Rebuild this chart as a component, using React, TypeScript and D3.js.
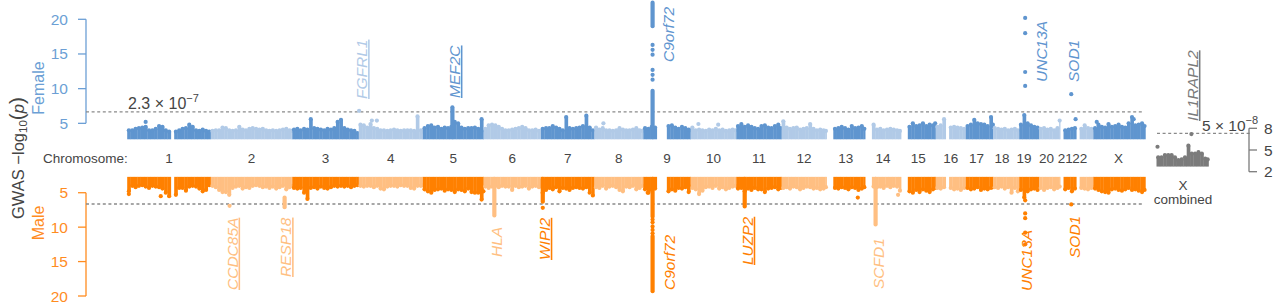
import React from "react";
import * as d3 from "d3";

// ---------- DATA ----------
const chromosomes = ["1","2","3","4","5","6","7","8","9","10","11","12","13","14","15","16","17","18","19","20","21","22","X"];
const chromLengthsMb = [249,243,198,191,181,171,159,146,141,136,135,134,115,107,103,90,81,78,59,63,48,51,155];
const binSizeMb = 10;

// top of the dense point band per 10-Mb bin (-log10 p); 0 = no SNPs
const femaleProfile: number[][] = [
  [4.0,4.0,4.2,4.3,4.4,4.5,4.0,4.0,4.2,4.6,4.5,4.0,3.8,0,3.8,4.0,4.2,4.3,4.8,4.5,4.0,3.9,4.1,3.9,3.8],
  [3.9,4.0,4.0,4.4,4.3,4.0,3.9,4.0,4.5,4.1,4.0,4.2,4.3,4.2,4.1,4.2,4.0,3.9,4.0,3.9,4.0,4.1,4.2,4.0,3.9],
  [4.1,4.2,4.0,4.2,4.1,5.6,4.3,4.2,4.1,4.0,4.2,4.1,4.3,5.2,5.5,4.3,4.1,4.0,3.9,3.6],
  [4.8,4.7,4.4,4.9,4.3,4.2,4.0,4.0,3.9,4.0,4.1,4.0,3.9,4.0,4.0,4.0,3.9,6.0,4.0,3.8],
  [4.3,4.6,4.7,4.4,4.5,4.2,4.4,4.3,4.5,5.2,5.0,4.4,4.2,4.3,4.3,4.4,4.2,5.6,4.0],
  [4.2,4.7,4.8,4.7,4.5,4.2,4.0,4.0,4.1,4.2,4.3,4.5,4.3,4.0,4.0,4.1,3.9,3.8],
  [4.2,4.3,4.3,4.6,4.4,4.2,4.0,5.9,4.3,4.2,4.3,4.4,4.6,6.1,4.4,4.0],
  [4.4,4.1,4.3,4.0,4.0,3.9,4.0,4.3,4.1,4.0,4.0,4.1,4.3,4.0,3.9],
  [4.3,4.2,4.5,4.4,0,0,0,4.6,4.7,4.4,4.2,4.5,4.3,4.1,4.0],
  [4.4,4.0,4.1,4.0,3.9,4.1,4.0,4.2,4.0,4.1,3.9,4.0,4.1,4.0],
  [4.6,4.9,4.5,4.7,4.5,4.3,4.2,4.6,4.7,4.4,4.3,4.6,4.8,4.3],
  [5.3,4.4,4.2,4.3,4.4,4.1,4.2,4.3,4.9,4.2,4.0,4.1,4.0,3.9],
  [0,0,4.2,4.3,4.5,4.3,4.1,4.6,4.3,4.4,4.6,4.2],
  [0,0,4.8,4.1,4.2,4.0,4.1,4.2,4.1,4.0,3.9],
  [0,0,4.5,5.0,4.6,4.7,5.0,4.6,4.8,4.7,5.0],
  [4.5,4.7,5.6,0,4.4,4.5,4.4,4.3,4.2],
  [4.6,4.8,5.5,5.0,4.9,4.8,4.6,5.9,4.8],
  [4.3,4.2,4.1,4.2,4.0,4.1,4.2,4.0],
  [4.8,6.2,5.0,4.7,4.5,4.4],
  [4.2,4.3,4.1,4.2,4.0,4.3,5.4],
  [0,4.0,4.1,4.2,4.3],
  [0,4.2,4.7,4.3,4.2,4.0],
  [4.3,4.8,4.5,4.4,4.9,4.5,4.6,4.8,4.5,4.4,5.0,5.9,4.7,4.8,5.0,4.6],
];

const maleProfile: number[][] = [
  [4.8,4.0,4.2,4.0,3.9,4.1,4.3,4.0,4.1,4.2,4.4,5.0,5.5,0,5.3,4.3,4.3,4.7,4.1,4.0,4.1,4.4,4.8,4.6,3.9],
  [4.0,4.2,4.6,4.9,4.9,5.3,4.3,4.1,4.0,4.4,4.2,4.3,4.0,3.9,4.0,4.2,4.1,4.3,4.1,4.4,4.2,4.0,4.5,4.2,4.0],
  [4.3,4.4,4.3,5.0,5.9,4.3,4.2,4.4,4.1,4.3,4.4,4.2,4.0,4.1,4.0,4.1,4.0,4.2,4.0,3.9],
  [4.0,4.1,4.0,4.0,4.2,4.0,4.4,4.5,4.1,4.0,4.0,4.1,3.9,4.0,4.0,4.3,4.4,4.0,4.0,3.9],
  [4.5,4.8,5.0,4.6,4.5,4.4,4.7,4.5,4.6,4.9,4.5,4.6,4.8,4.4,4.9,5.0,5.0,6.0,4.8],
  [4.1,4.3,4.1,4.0,4.2,4.0,4.1,4.1,4.6,4.0,4.2,4.1,4.0,4.4,4.1,4.0,4.2,4.0],
  [5.0,4.6,4.3,4.5,4.2,4.8,4.3,4.4,4.6,4.3,4.2,4.3,4.4,4.2,5.0,5.4],
  [4.2,4.3,4.0,4.4,4.1,4.0,4.2,4.6,4.8,4.1,4.2,4.0,4.5,4.3,4.0],
  [4.5,5.0,4.6,4.4,0,0,0,4.8,4.5,4.7,4.3,4.4,4.2,4.9,4.1],
  [4.3,4.5,5.2,4.7,4.2,4.1,4.3,4.0,4.4,4.2,4.5,4.3,4.1,4.0],
  [4.4,4.3,4.8,4.4,4.6,4.3,4.5,4.5,4.9,4.4,4.3,4.2,4.5,4.3],
  [4.3,4.2,4.4,4.1,4.2,4.5,4.3,4.1,4.2,4.4,4.3,4.5,4.4,4.2],
  [0,0,4.3,4.4,4.2,4.3,4.5,4.2,4.3,4.6,4.4,4.2],
  [0,0,4.1,4.2,4.1,4.3,4.0,4.2,4.0,4.1,4.7],
  [0,0,4.8,5.0,4.6,4.9,4.5,4.7,4.9,4.5,4.3],
  [4.3,4.4,4.2,0,4.3,4.5,4.4,4.6,4.3],
  [4.3,4.5,4.4,4.2,4.6,4.4,4.5,4.3,4.2],
  [4.2,4.3,4.1,4.4,4.2,5.0,4.3,4.8],
  [4.6,5.7,4.8,4.5,4.4,4.6],
  [4.3,4.6,4.3,4.2,4.5,4.3,4.1],
  [0,4.5,4.3,4.8,4.4],
  [0,4.3,4.4,4.5,4.3,4.2],
  [4.4,4.6,4.8,4.9,5.0,4.5,4.4,4.6,4.7,4.5,4.3,4.6,4.5,4.7,4.9,4.6],
];

// isolated SNPs: [chromosome, position Mb, -log10 p]
const femalePoints: [string, number, number][] = [
  ["1",55,5.2],["4",1,6.8],["4",39,5.4],["4",54,5.4],["8",27,5.0],["10",23,4.9],["10",82,4.8],
  ["9",27.5,16.3],["9",27.5,15.6],["9",27.5,14.9],["9",27.5,12.7],["9",27.5,12.0],["9",27.5,11.3],
  ["19",17.7,20.2],["19",17.7,18.0],["19",17.7,12.4],["19",17.7,10.4],
  ["21",33,9.2],["21",46,5.6],["X",10,5.2],["X",120,5.6],
];
// dense stacks of SNPs: [chromosome, position Mb, lowest, highest]
const femaleRuns: [string, number, number, number][] = [
  ["9",27.5,3,9.7],["9",27.5,19.0,22.4],["5",88,3,7.3],
];
const malePoints: [string, number, number][] = [
  ["1",5,5.2],["1",100,5.5],["2",56,6.9],["7",5.3,7.2],["9",13,5.0],
  ["9",27.5,8.9],["9",27.5,9.3],["9",27.5,9.9],["9",27.5,10.4],["9",27.5,10.9],
  ["13",93,5.7],["14",98,5.3],
  ["19",17.7,6.1],["19",17.7,8.0],["19",17.7,8.7],["19",17.7,10.8],["19",17.7,12.5],
  ["21",33,6.7],
];
const maleRuns: [string, number, number, number][] = [
  ["9",27.5,3,8.5],["9",27.5,11.3,19.3],["6",32,3,8.3],["7",5.3,3,6.3],
  ["11",25,3,7.0],["2",220,5.7,7.1],["14",31,3,9.6],
];

const xCombinedProfile = [4.0,4.0,4.3,4.3,4.3,4.0,3.6,3.7,4.0,5.6,4.5,4.5,4.7,4.5,3.8,3.7];
const xCombinedPoints: [number, number][] = [[3,5.45],[104,7.2]];

const femaleGenes = [
  { gene: "FGFRL1", chr: "4", pos: 1 },
  { gene: "MEF2C", chr: "5", pos: 88 },
  { gene: "C9orf72", chr: "9", pos: 27.5 },
  { gene: "UNC13A", chr: "19", pos: 17.7 },
  { gene: "SOD1", chr: "21", pos: 33 },
];
const maleGenes = [
  { gene: "CCDC85A", chr: "2", pos: 56 },
  { gene: "RESP18", chr: "2", pos: 220 },
  { gene: "HLA", chr: "6", pos: 32 },
  { gene: "WIPI2", chr: "7", pos: 5.3 },
  { gene: "C9orf72", chr: "9", pos: 27.5 },
  { gene: "LUZP2", chr: "11", pos: 25 },
  { gene: "SCFD1", chr: "14", pos: 31 },
  { gene: "UNC13A", chr: "19", pos: 17.7 },
  { gene: "SOD1", chr: "21", pos: 33 },
];
const combinedGene = { gene: "IL1RAPL2", pos: 104 };

const yTicks = [5, 10, 15, 20];
const insetTicks = [2, 5, 8];
const sexThresholdP = 2.3e-7;
const combinedThresholdP = 5e-8;
const minShown = 3;

// ---------- LAYOUT / STYLE ----------
const W = 1280, H = 307;
const FONT = "'Liberation Sans', Arial, Helvetica, sans-serif";
const C = {
  fDark: "#5f95cf", fLight: "#b1cae7",
  mDark: "#ff8000", mLight: "#ffbf82",
  fAxis: "#6c9fd5", mAxis: "#ff8c1f",
  gray: "#7b7b7b", dash: "#8a8a8a", text: "#454545",
};
const R = 2.1;
const labelLayout: Record<string, { dx: number; yb: number; ul: boolean }> = {
  "F:FGFRL1": { dx: 8, yb: 99, ul: true },
  "F:MEF2C": { dx: 7.5, yb: 98, ul: true },
  "F:C9orf72": { dx: 21.5, yb: 62, ul: false },
  "F:UNC13A": { dx: 21.5, yb: 82, ul: false },
  "F:SOD1": { dx: 8, yb: 82, ul: false },
  "M:CCDC85A": { dx: 8, yb: 290, ul: true },
  "M:RESP18": { dx: 6.5, yb: 277, ul: true },
  "M:HLA": { dx: 7.5, yb: 257, ul: false },
  "M:WIPI2": { dx: 7, yb: 260, ul: true },
  "M:C9orf72": { dx: 22, yb: 290, ul: false },
  "M:LUZP2": { dx: 8, yb: 265, ul: true },
  "M:SCFD1": { dx: 8, yb: 289, ul: false },
  "M:UNC13A": { dx: 7, yb: 291, ul: false },
  "M:SOD1": { dx: 8.5, yb: 258, ul: false },
};
const chromLabelNudge: Record<string, number> = { "17": -3, "18": -4, "19": -5, "20": -3, "21": -3, "22": -5, "X": -1 };

export default function App() {
  const cumStart = d3.cumsum([0, ...chromLengthsMb]);
  const totalMb = d3.sum(chromLengthsMb);
  const x = d3.scaleLinear().domain([0, totalMb]).range([127.2, 127.2 + totalMb * 0.3356]);
  const yF = d3.scaleLinear().domain([0, 20]).range([158, 19.3]);
  const yM = d3.scaleLinear().domain([0, 20]).range([158.3, 296]);
  const xIn = d3.scaleLinear().domain([0, chromLengthsMb[22]]).range([1156.5, 1156.5 + chromLengthsMb[22] * 0.3356]);
  const yIn = d3.scaleLinear().domain([2, 8]).range([171.7, 128.3]);
  const ci = (c: string) => chromosomes.indexOf(c);
  const gx = (c: string, p: number) => x(cumStart[ci(c)] + p);
  const isDark = (i: number) => i % 2 === 0;
  const colF = (i: number) => (isDark(i) ? C.fDark : C.fLight);
  const colM = (i: number) => (isDark(i) ? C.mDark : C.mLight);

  // each 10-Mb bin: a stack of overlapping SNP points from the minimum shown value up to the bin's top value
  const bandMarks = (bins: number[], len: number, xs: (mb: number) => number, y: d3.ScaleLinear<number, number>, sign: number, color: string, key: string) => {
    const out: React.ReactNode[] = [];
    const yBase = y(minShown) + sign * R;
    bins.forEach((v, b) => {
      if (!v) return;
      const s = b * binSizeMb;
      const e = Math.min(s + binSizeMb, len);
      const x0 = xs(s), x1 = xs(e);
      const yTop = y(v);
      out.push(
        <rect key={`${key}r${b}`} x={x0} width={x1 - x0 + 0.3} y={Math.min(yBase, yTop)} height={Math.abs(yBase - yTop)} fill={color} />,
        <circle key={`${key}c${b}`} cx={(x0 + x1) / 2} cy={yTop} r={R} fill={color} />
      );
    });
    return out;
  };

  const geneLabel = (g: { gene: string; chr: string; pos: number }, track: "F" | "M", color: string) => {
    const L = labelLayout[`${track}:${g.gene}`];
    const bx = gx(g.chr, g.pos) + L.dx;
    return (
      <text key={`${track}${g.gene}`} transform={`translate(${bx},${L.yb}) rotate(-90)`} fontSize={15.5} fontStyle="italic"
        fill={color} textDecoration={L.ul ? "underline" : undefined} fontFamily={FONT}>{g.gene}</text>
    );
  };

  const fThr = -Math.log10(sexThresholdP);
  const cThr = -Math.log10(combinedThresholdP);

  return (
    <svg width={W} height={H} style={{ position: "absolute", left: 0, top: 0, background: "#fff" }} fontFamily={FONT}>
      {/* y-axis titles */}
      <text transform="translate(24,158) rotate(-90)" textAnchor="middle" fontSize={16.5} fill={C.text}>
        GWAS −log<tspan fontSize={11.5} dy={3}>10</tspan><tspan dy={-3} fontSize={21}>(</tspan><tspan fontStyle="italic">p</tspan><tspan fontSize={21}>)</tspan>
      </text>
      <text transform="translate(43.5,88) rotate(-90)" textAnchor="middle" fontSize={16} fill={C.fAxis}>Female</text>
      <text transform="translate(43.5,223) rotate(-90)" textAnchor="middle" fontSize={16} fill={C.mAxis}>Male</text>

      {/* female axis */}
      <line x1={86} x2={86} y1={yF(20)} y2={yF(5)} stroke={C.fAxis} strokeWidth={1.3} />
      {yTicks.map((t) => (
        <g key={`ft${t}`}>
          <line x1={78} x2={86} y1={yF(t)} y2={yF(t)} stroke={C.fAxis} strokeWidth={1.3} />
          <text x={68} y={yF(t) + 5.5} textAnchor="end" fontSize={15.5} fill={C.fAxis}>{t}</text>
        </g>
      ))}
      {/* male axis */}
      <line x1={86} x2={86} y1={yM(5)} y2={yM(20)} stroke={C.mAxis} strokeWidth={1.3} />
      {yTicks.map((t) => (
        <g key={`mt${t}`}>
          <line x1={78} x2={86} y1={yM(t)} y2={yM(t)} stroke={C.mAxis} strokeWidth={1.3} />
          <text x={68} y={yM(t) + 5.5} textAnchor="end" fontSize={15.5} fill={C.mAxis}>{t}</text>
        </g>
      ))}

      {/* thresholds */}
      <line x1={86} x2={1142} y1={yF(fThr)} y2={yF(fThr)} stroke={C.dash} strokeWidth={1.3} strokeDasharray="3,2.6" />
      <line x1={86} x2={1142} y1={yM(fThr)} y2={yM(fThr)} stroke={C.dash} strokeWidth={1.3} strokeDasharray="3,2.6" />
      <text x={128} y={108.5} fontSize={16} fill={C.text}>2.3 × 10<tspan dy={-7} fontSize={11}>−7</tspan></text>

      {/* point bands */}
      {femaleProfile.map((bins, i) => bandMarks(bins, chromLengthsMb[i], (mb) => x(cumStart[i] + mb), yF, 1, colF(i), `f${i}`))}
      {maleProfile.map((bins, i) => bandMarks(bins, chromLengthsMb[i], (mb) => x(cumStart[i] + mb), yM, -1, colM(i), `m${i}`))}
      {femaleRuns.map(([c, p, lo, hi], k) => (
        <line key={`fr${k}`} x1={gx(c, p)} x2={gx(c, p)} y1={yF(lo)} y2={yF(hi)} stroke={colF(ci(c))} strokeWidth={2 * R} strokeLinecap="round" />
      ))}
      {maleRuns.map(([c, p, lo, hi], k) => (
        <line key={`mr${k}`} x1={gx(c, p)} x2={gx(c, p)} y1={yM(lo)} y2={yM(hi)} stroke={colM(ci(c))} strokeWidth={2 * R} strokeLinecap="round" />
      ))}
      {femalePoints.map(([c, p, v], k) => (
        <circle key={`fp${k}`} cx={gx(c, p)} cy={yF(v)} r={R} fill={colF(ci(c))} />
      ))}
      {malePoints.map(([c, p, v], k) => (
        <circle key={`mp${k}`} cx={gx(c, p)} cy={yM(v)} r={R} fill={colM(ci(c))} />
      ))}

      {/* chromosome labels */}
      <text x={43} y={163} fontSize={13.5} fill={C.text}>Chromosome:</text>
      {chromosomes.map((c, i) => (
        <text key={`cl${c}`} x={x(cumStart[i] + chromLengthsMb[i] / 2) + (chromLabelNudge[c] || 0)} y={163} textAnchor="middle" fontSize={13.5} fill={C.text}>{c}</text>
      ))}

      {/* gene labels */}
      {femaleGenes.map((g) => geneLabel(g, "F", colF(ci(g.chr))))}
      {maleGenes.map((g) => geneLabel(g, "M", colM(ci(g.chr))))}

      {/* X combined inset */}
      <line x1={1157} x2={1250} y1={yIn(cThr)} y2={yIn(cThr)} stroke={C.dash} strokeWidth={1.3} strokeDasharray="3,2.6" />
      {bandMarks(xCombinedProfile, chromLengthsMb[22], xIn, yIn, 1, C.gray, "xc")}
      {xCombinedPoints.map(([p, v], k) => (
        <circle key={`xp${k}`} cx={xIn(p)} cy={yIn(v)} r={R} fill={C.gray} />
      ))}
      <text transform={`translate(${xIn(combinedGene.pos) + 6.5},121) rotate(-90)`} fontSize={15.5} fontStyle="italic" fill={C.gray} textDecoration="underline">{combinedGene.gene}</text>
      <text x={1202} y={131} fontSize={15.5} fill={C.text}>5 × 10<tspan dy={-7} fontSize={11}>−8</tspan></text>
      <line x1={1249} x2={1249} y1={yIn(8)} y2={yIn(2)} stroke={C.gray} strokeWidth={1.3} />
      {insetTicks.map((t) => (
        <g key={`it${t}`}>
          <line x1={1249} x2={1257} y1={yIn(t)} y2={yIn(t)} stroke={C.gray} strokeWidth={1.3} />
          <text x={1264} y={yIn(t) + 5.5} fontSize={15.5} fill={C.text}>{t}</text>
        </g>
      ))}
      <text x={1183} y={190} textAnchor="middle" fontSize={13.5} fill={C.text}>X</text>
      <text x={1183} y={204} textAnchor="middle" fontSize={13.5} fill={C.text}>combined</text>
    </svg>
  );
}
